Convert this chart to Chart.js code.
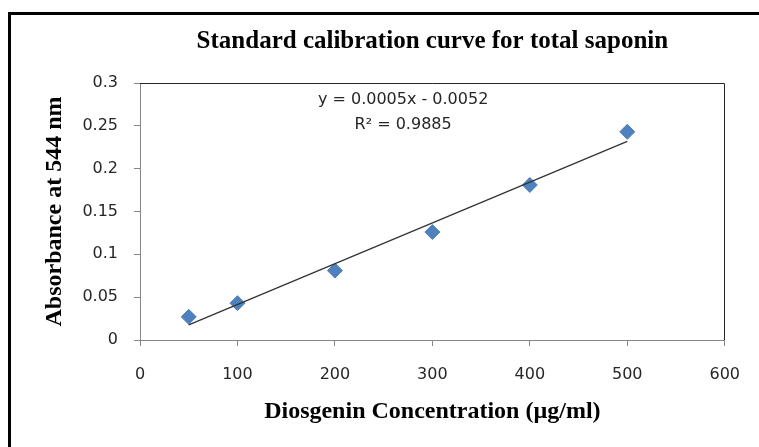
<!DOCTYPE html>
<html>
<head>
<meta charset="utf-8">
<script src="https://cdn.jsdelivr.net/npm/chart.js@4"></script>
<style>
  html, body { margin: 0; padding: 0; background: #fff; }
  #wrap { width: 759px; height: 447px; position: relative; }
</style>
</head>
<body>
<div id="wrap"><canvas id="myChart" width="759" height="447"></canvas></div>
<script>
'use strict';
// dane
var concentrations = [50, 100, 200, 300, 400, 500];
var absorbance = [0.027, 0.043, 0.081, 0.126, 0.181, 0.243];
var xTicks = [0, 100, 200, 300, 400, 500, 600];
var yTicks = [0, 0.05, 0.1, 0.15, 0.2, 0.25, 0.3];
var equationLines = ['y = 0.0005x - 0.0052', 'R\u00B2 = 0.9885'];

(function () {
    // linia trendu - regresja liniowa z punktow
    function fitLine(xs, ys) {
        var n = xs.length, mx = 0, my = 0;
        for (var i = 0; i < n; i++) { mx += xs[i]; my += ys[i]; }
        mx /= n; my /= n;
        var sxy = 0, sxx = 0;
        for (var j = 0; j < n; j++) {
            sxy += (xs[j] - mx) * (ys[j] - my);
            sxx += (xs[j] - mx) * (xs[j] - mx);
        }
        var slope = sxy / sxx;
        return { slope: slope, intercept: my - slope * mx };
    }

    var fit = fitLine(concentrations, absorbance);
    var xMin = Math.min.apply(null, concentrations);
    var xMax = Math.max.apply(null, concentrations);
    var trend = [xMin, xMax].map(function (x) {
        return { x: x, y: fit.slope * x + fit.intercept };
    });

    var points = concentrations.map(function (x, i) {
        return { x: x, y: absorbance[i] };
    });

    // ramka dookola + ramka obszaru wykresu + rownanie
    var decorations = {
        id: 'decorations',
        beforeDraw: function (chart) {
            var ctx = chart.ctx;
            ctx.save();
            ctx.fillStyle = '#fff';
            ctx.fillRect(0, 0, chart.width, chart.height);
            ctx.fillStyle = '#000';
            ctx.fillRect(8, 12, 3, chart.height);
            ctx.fillRect(8, 12, chart.width, 3);
            ctx.restore();
        },
        afterDatasetsDraw: function (chart) {
            var ctx = chart.ctx, a = chart.chartArea;
            ctx.save();
            ctx.strokeStyle = '#262626';
            ctx.lineWidth = 1;
            ctx.beginPath();
            ctx.moveTo(a.left, Math.round(a.top) + 0.5);
            ctx.lineTo(Math.round(a.right) - 0.5, Math.round(a.top) + 0.5);
            ctx.lineTo(Math.round(a.right) - 0.5, a.bottom);
            ctx.stroke();

            ctx.fillStyle = '#262626';
            ctx.font = '16px "DejaVu Sans"';
            ctx.textAlign = 'center';
            ctx.textBaseline = 'middle';
            var cx = chart.scales.x.getPixelForValue(270);
            ctx.fillText(equationLines[0], cx, a.top + 17);
            ctx.fillText(equationLines[1], cx, a.top + 42);
            ctx.restore();
        }
    };

    var serif = { family: '"Liberation Serif", "Times New Roman", serif', size: 24, weight: 'bold' };
    var tickFont = { family: '"DejaVu Sans", sans-serif', size: 16 };

    var ctx = document.getElementById('myChart').getContext('2d');
    var chart = new Chart(ctx, {
        type: 'scatter',
        data: {
            datasets: [{
                type: 'line',
                label: 'Trend',
                data: trend,
                borderColor: '#333333',
                borderWidth: 1.3,
                pointRadius: 0,
                fill: false,
                order: 0
            },
            {
                label: 'Absorbance',
                data: points,
                backgroundColor: '#4F81BD',
                borderColor: '#4F81BD',
                borderWidth: 1,
                pointStyle: 'rectRot',
                pointRadius: 7.5,
                pointHoverRadius: 7.5,
                order: 1
            }]
        },
        options: {
            responsive: false,
            animation: false,
            layout: { padding: { top: 0, right: 34, bottom: 0, left: 0 } },
            plugins: {
                legend: { display: false },
                tooltip: { enabled: false },
                title: {
                    display: true,
                    text: 'Standard calibration curve for total saponin',
                    color: '#000',
                    font: { family: serif.family, size: 25, weight: 'bold' },
                    fullSize: false,
                    padding: { top: 27, bottom: 26 }
                }
            },
            scales: {
                x: {
                    type: 'linear',
                    min: 0,
                    max: 600,
                    afterBuildTicks: function (scale) {
                        scale.ticks = xTicks.map(function (v) { return { value: v }; });
                    },
                    afterFit: function (scale) { scale.height = 107; },
                    grid: { drawOnChartArea: false, color: '#868686', tickLength: 6 },
                    border: { color: '#868686' },
                    ticks: { color: '#262626', font: tickFont, padding: 19, maxRotation: 0 },
                    title: {
                        display: true,
                        text: 'Diosgenin Concentration (\u00B5g/ml)',
                        color: '#000',
                        font: serif,
                        padding: { top: 0, bottom: 20.6 }
                    }
                },
                y: {
                    min: 0,
                    max: 0.3,
                    afterBuildTicks: function (scale) {
                        scale.ticks = yTicks.map(function (v) { return { value: v }; });
                    },
                    afterFit: function (scale) { scale.width = 140; },
                    grid: { drawOnChartArea: false, color: '#868686', tickLength: 6 },
                    border: { color: '#868686' },
                    ticks: {
                        color: '#262626',
                        font: tickFont,
                        padding: 16,
                        callback: function (v) { return String(Math.round(v * 100) / 100); }
                    },
                    title: {
                        display: true,
                        text: 'Absorbance at 544 nm',
                        color: '#000',
                        font: serif,
                        padding: { top: 40, bottom: 0 }
                    }
                }
            }
        },
        plugins: [decorations]
    });
})();
</script>
</body>
</html>
